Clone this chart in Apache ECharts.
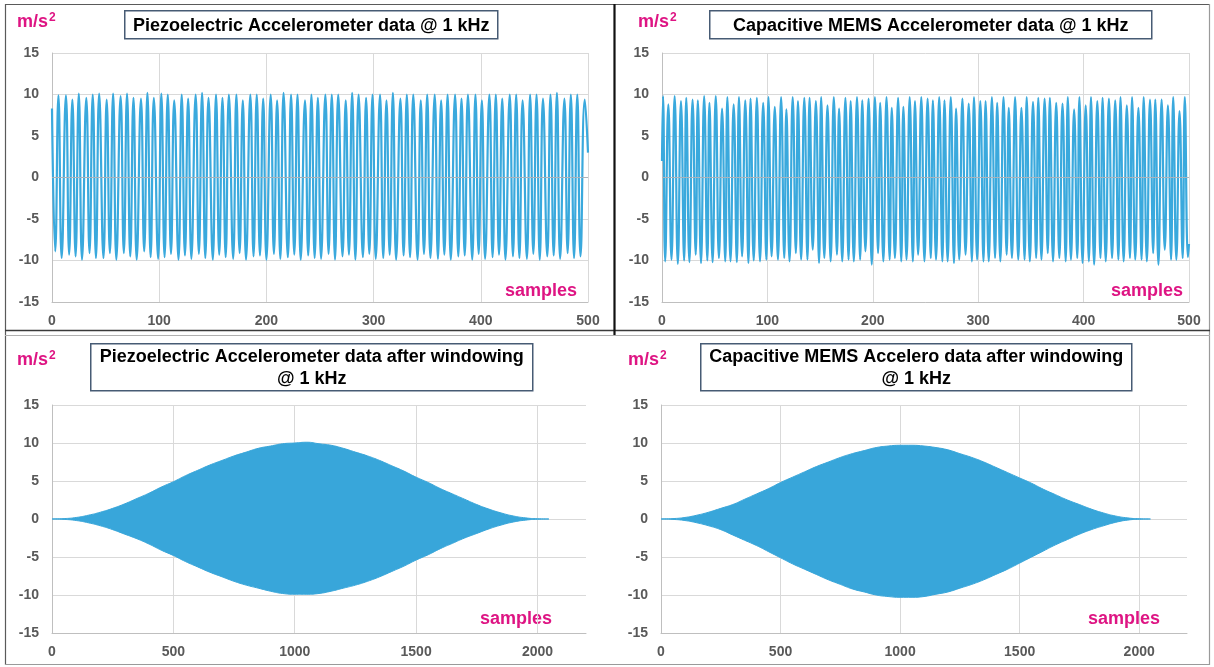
<!DOCTYPE html>
<html>
<head>
<meta charset="utf-8">
<script src="https://cdn.jsdelivr.net/npm/echarts@6/dist/echarts.min.js"></script>
<style>
  html, body { margin: 0; padding: 0; background: #ffffff; }
  #chart { width: 1214px; height: 667px; }
</style>
</head>
<body>
<div id="chart"></div>
<script>
// ---- Piezoelectric accelerometer, raw, turning points of the 500-sample record ----
const piezoStart = [0, 8.3];
const piezoEnd = [500, 3.0];
const piezoPeakX = [6,13,19,25,32,38,44,51,57,64,70,76,83,89,95,102,108,114,121,127,134,140,146,153,159,165,172,178,185,191,197,204,210,216,223,229,236,242,248,255,261,267,274,280,286,293,299,306,312,318,325,331,337,344,350,357,363,369,376,382,388,395,401,408,414,420,427,433,439,446,452,458,465,471,478,484,490,497];
const piezoPeakY = [9.9,9.9,9.4,10.1,9.6,10.0,10.1,9.4,10.1,9.8,10.1,9.6,9.5,10.2,9.6,10.1,
  10.0,9.3,10.0,9.5,10.0,10.2,9.6,10.0,9.6,10.0,10.0,9.3,10.0,10.0,9.5,10.0,9.3,10.2,10.0,10.0,9.3,10.0,9.6,10.0,
  10.0,10.0,9.3,10.2,10.0,9.6,10.0,10.0,9.3,10.2,9.5,10.0,10.0,9.3,10.0,10.0,9.3,10.0,10.0,9.5,10.0,10.0,9.3,10.0,
  10.0,9.5,10.0,10.0,9.3,10.0,10.0,9.5,10.0,10.2,9.5,10.0,10.0,9.4];
const piezoTroughX = [3,9,16,22,28,35,41,48,54,60,67,73,79,86,92,99,105,111,118,124,130,137,143,150,156,162,169,175,181,188,194,200,207,213,220,226,232,239,245,251,258,264,271,277,283,290,296,302,309,315,321,328,334,341,347,353,360,366,372,379,385,392,398,404,411,417,423,430,436,443,449,455,462,468,474,481,487,493];
const piezoTroughY = [-8.9,-9.7,-9.3,-9.5,-9.9,-9.1,-9.7,-9.7,-9.1,-9.9,-9.1,-9.5,-9.9,-8.9,-9.6,-9.8,
  -9.6,-9.2,-9.9,-9.4,-9.8,-9.2,-9.7,-9.9,-9.3,-9.6,-9.8,-9.1,-9.9,-9.5,-9.4,-9.9,-9.2,-9.8,-9.6,-9.3,
  -9.9,-9.4,-9.7,-9.8,-9.2,-9.9,-9.5,-9.3,-9.9,-9.6,-9.2,-9.8,-9.7,-9.3,-9.9,-9.4,-9.6,-9.9,-9.2,-9.7,
  -9.8,-9.3,-9.9,-9.5,-9.4,-9.9,-9.2,-9.8,-9.6,-9.3,-9.9,-9.5,-9.7,-9.8,-9.2,-9.9,-9.5,-9.4,-9.8,-9.1,-9.7,-9.5];

// ---- Capacitive MEMS accelerometer, raw ----
const memsStart = [0, 2.0];
const memsEnd = [500, -8.0];
const memsPeakX = [1,6,12,18,23,29,34,40,45,51,57,62,68,73,79,84,90,96,101,107,113,118,124,129,135,140,146,151,157,163,168,174,179,185,190,196,202,207,213,218,224,229,235,240,246,252,257,263,268,274,279,285,291,296,302,307,313,318,324,329,335,341,346,352,357,363,368,374,380,385,391,396,402,407,413,418,424,430,435,441,446,452,457,463,468,474,480,485,491,496];
const memsPeakY = [9.8,8.8,9.8,9.2,9.6,9.4,9.3,9.8,9.0,9.8,8.3,9.7,8.8,9.7,9.3,9.5,9.6,
  9.0,9.7,8.5,9.7,8.2,9.7,9.2,9.6,9.6,9.2,
  9.7,8.7,9.7,8.3,9.6,9.2,9.7,9.3,9.5,9.7,
  9.0,9.7,8.4,9.6,8.5,9.7,9.2,9.7,9.5,9.3,
  9.7,9.3,9.7,8.3,9.5,8.9,9.7,9.2,9.2,9.7,
  9.0,9.7,8.4,9.7,8.4,9.7,9.1,9.6,9.5,9.6,
  9.0,8.9,9.7,8.2,9.7,8.7,9.7,9.2,9.6,9.5,
  9.3,9.7,8.7,9.7,8.4,9.7,9.4,9.4,9.4,8.7,
  9.7,8.0,9.7];
const memsTroughX = [3,9,15,21,26,32,37,43,48,54,60,65,71,76,82,87,93,99,104,110,116,121,127,132,138,143,149,154,160,166,171,177,182,188,193,199,205,210,216,221,227,232,238,243,249,255,260,266,271,277,282,288,294,299,305,310,316,321,327,332,338,344,349,355,360,366,371,377,383,388,394,399,405,410,416,421,427,433,438,444,449,455,460,466,471,477,483,488,494,499];
const memsTroughY = [-10.1,-9.9,-10.4,-10.0,-10.2,-9.3,-10.3,-10.0,-10.2,-9.7,-10.1,-10.1,-10.2,-9.5,-10.3,-10.0,-10.1,
  -9.9,-9.5,-9.9,-9.7,-10.1,-9.1,-9.9,-9.9,-8.7,-10.3,
  -9.7,-10.1,-9.3,-10.1,-9.9,-10.1,-9.9,-8.9,-10.5,-9.1,
  -10.1,-9.9,-9.7,-10.1,-9.9,-10.1,-9.3,-10.1,-9.7,-9.9,
  -10.1,-10.1,-10.3,-9.9,-9.3,-10.1,-9.9,-10.1,-10.1,-9.7,
  -10.1,-9.3,-9.7,-9.9,-9.9,-10.1,-9.7,-9.9,-9.1,-10.1,
  -9.7,-10.1,-9.9,-9.7,-10.3,-10.1,-10.5,-9.7,-10.1,-9.7,
  -9.9,-10.1,-9.7,-9.9,-9.9,-10.1,-9.1,-10.5,-8.7,-9.9,
  -9.9,-9.7,-9.6];

// ---- Windowed records (2048 samples): upper / lower envelope of the filled trace ----
const winX = [0,50,100,150,200,250,300,350,400,450,500,550,600,650,700,750,800,850,900,950,1000,1050,1100,1150,1200,1250,1300,1350,1400,1450,1500,1550,1600,1650,1700,1750,1800,1850,1900,1950,2000,2047];
const piezoWinUpper = [0,0.05,0.2,0.5,0.9,1.4,2.0,2.7,3.4,4.2,4.9,5.7,6.4,7.1,7.7,8.3,8.8,9.3,9.6,9.9,10.0,10.1,9.9,9.7,9.3,8.8,8.3,7.7,7.0,6.3,5.5,4.8,4.0,3.3,2.6,1.9,1.3,0.8,0.4,0.15,0.03,0];
const piezoWinLower = [0,-0.05,-0.2,-0.5,-0.9,-1.4,-2.0,-2.6,-3.3,-4.1,-4.8,-5.6,-6.3,-7.0,-7.6,-8.2,-8.7,-9.1,-9.5,-9.8,-9.9,-9.9,-9.8,-9.5,-9.1,-8.7,-8.2,-7.6,-6.9,-6.2,-5.4,-4.7,-3.9,-3.2,-2.5,-1.9,-1.3,-0.8,-0.4,-0.15,-0.03,0];
const memsWinUpper = [0,0.05,0.2,0.5,0.9,1.4,1.9,2.6,3.3,4.0,4.8,5.5,6.2,6.9,7.5,8.1,8.6,9.0,9.4,9.6,9.7,9.7,9.6,9.4,9.1,8.6,8.1,7.5,6.8,6.1,5.4,4.7,3.9,3.2,2.5,1.9,1.3,0.8,0.4,0.15,0.03,0];
const memsWinLower = [0,-0.05,-0.2,-0.5,-0.9,-1.4,-2.1,-2.8,-3.5,-4.3,-5.1,-5.9,-6.6,-7.3,-8.0,-8.6,-9.2,-9.6,-10.0,-10.2,-10.3,-10.3,-10.2,-9.9,-9.6,-9.1,-8.6,-8.0,-7.3,-6.6,-5.8,-5.0,-4.2,-3.4,-2.7,-2.0,-1.4,-0.9,-0.45,-0.15,-0.03,0];

// ---- Texts ----
const panelTitles = [
  'Piezoelectric Accelerometer data @ 1 kHz',
  'Capacitive MEMS Accelerometer data @ 1 kHz',
  'Piezoelectric Accelerometer data after windowing\n@ 1 kHz',
  'Capacitive MEMS Accelero data after windowing\n@ 1 kHz'
];
const unitBase = 'm/s';
const unitPower = '2';
const xLabel = 'samples';

const FONT = '"Liberation Sans", Arial, Helvetica, sans-serif';
const LINE = '#3AA9DD';
const FILL = '#38A6DA';
const MAGENTA = '#DE1483';

function mergeTurns(start, px, py, tx, ty, end) {
  const pts = [start];
  px.forEach((x, i) => pts.push([x, py[i]]));
  tx.forEach((x, i) => pts.push([x, ty[i]]));
  pts.push(end);
  return pts.sort((a, b) => a[0] - b[0]);
}
function zip(xs, ys) { return xs.map((x, i) => [x, ys[i]]); }

const grids = [
  { left: 52, top: 53, width: 536, height: 249 },
  { left: 662, top: 53, width: 527, height: 249 },
  { left: 52, top: 405, width: 534, height: 228 },
  { left: 661, top: 405, width: 526, height: 228 }
];

const tickText = { color: '#595959', fontWeight: 'bold', fontSize: 14, fontFamily: FONT };
const gridLine = { show: true, lineStyle: { color: '#D9D9D9', width: 1 } };
const axisEdge = { show: true, onZero: false, lineStyle: { color: '#BFBFBF', width: 1 } };

function xAxisDef(gi, max, interval) {
  return {
    type: 'value', gridIndex: gi, min: 0, max: max, interval: interval,
    axisLine: axisEdge, axisTick: { show: false },
    axisLabel: Object.assign({ margin: 12, showMaxLabel: max % interval === 0,
                               formatter: v => String(v) }, tickText),
    splitLine: Object.assign({ showMaxLine: max % interval === 0 }, gridLine)
  };
}
function yAxisDef(gi) {
  return {
    type: 'value', gridIndex: gi, min: -15, max: 15, interval: 5,
    axisLine: axisEdge, axisTick: { show: false },
    axisLabel: Object.assign({ margin: 13 }, tickText),
    splitLine: gridLine
  };
}

const zeroMark = {
  silent: true, symbol: 'none', label: { show: false },
  lineStyle: { color: '#A9B4BC', width: 1, type: 'solid' },
  data: [{ yAxis: 0 }]
};

function waveSeries(gi, data) {
  return {
    type: 'line', xAxisIndex: gi, yAxisIndex: gi, data: data,
    showSymbol: false, smooth: true, animation: false,
    lineStyle: { color: LINE, width: 2.2 },
    markLine: zeroMark
  };
}
function envelopeSeries(gi, data) {
  return {
    type: 'line', xAxisIndex: gi, yAxisIndex: gi, data: data,
    showSymbol: false, smooth: true, animation: false,
    lineStyle: { color: FILL, width: 1 },
    areaStyle: { color: FILL, opacity: 1, origin: 0 }
  };
}

// Title boxes, unit and axis captions
function titleBox(x, y, w, h, text) {
  return {
    type: 'group', left: x, top: y,
    children: [
      { type: 'rect', shape: { x: 0, y: 0, width: w, height: h },
        style: { fill: '#ffffff', stroke: '#475B74', lineWidth: 1.5 } },
      { type: 'text', x: w / 2, y: h / 2 + 1,
        style: { text: text, fill: '#000000', font: 'bold 18px ' + FONT,
                 align: 'center', verticalAlign: 'middle', lineHeight: 22 } }
    ]
  };
}
function caption(x, y, text) {
  return { type: 'text', x: x, y: y,
    style: { text: text, fill: MAGENTA, font: 'bold 18px ' + FONT,
             align: 'left', verticalAlign: 'middle' } };
}
function unitCaption(x, y) {
  return { type: 'text', x: x, y: y,
    style: {
      text: '{b|' + unitBase + '}{p|' + unitPower + '}',
      align: 'left', verticalAlign: 'middle',
      rich: {
        b: { fill: MAGENTA, font: 'bold 18px ' + FONT, fontFamily: FONT, fontSize: 18, fontWeight: 'bold', color: MAGENTA },
        p: { fill: MAGENTA, color: MAGENTA, fontFamily: FONT, fontSize: 12, fontWeight: 'bold', padding: [0, 0, 9, 1] }
      }
    } };
}
function frameLine(x1, y1, x2, y2, color, width) {
  return { type: 'line', shape: { x1: x1, y1: y1, x2: x2, y2: y2 },
    style: { stroke: color, lineWidth: width }, z: 100 };
}

const option = {
  backgroundColor: '#ffffff',
  animation: false,
  grid: grids,
  xAxis: [xAxisDef(0, 500, 100), xAxisDef(1, 500, 100), xAxisDef(2, 2200, 500), xAxisDef(3, 2200, 500)],
  yAxis: [yAxisDef(0), yAxisDef(1), yAxisDef(2), yAxisDef(3)],
  series: [
    waveSeries(0, mergeTurns(piezoStart, piezoPeakX, piezoPeakY, piezoTroughX, piezoTroughY, piezoEnd)),
    waveSeries(1, mergeTurns(memsStart, memsPeakX, memsPeakY, memsTroughX, memsTroughY, memsEnd)),
    envelopeSeries(2, zip(winX, piezoWinUpper)),
    envelopeSeries(2, zip(winX, piezoWinLower)),
    envelopeSeries(3, zip(winX, memsWinUpper)),
    envelopeSeries(3, zip(winX, memsWinLower))
  ],
  graphic: [
    titleBox(124, 10, 373, 28, panelTitles[0]),
    titleBox(709, 10, 442, 28, panelTitles[1]),
    titleBox(90, 343, 442, 47, panelTitles[2]),
    titleBox(700, 343, 431, 47, panelTitles[3]),
    unitCaption(17, 22),
    unitCaption(638, 22),
    unitCaption(17, 360),
    unitCaption(628, 360),
    caption(505, 291, xLabel),
    caption(1111, 291, xLabel),
    caption(480, 619, xLabel),
    caption(1088, 619, xLabel),
    frameLine(5, 4.5, 1210, 4.5, '#5A5A5A', 1.2),
    frameLine(5.5, 4, 5.5, 665, '#5A5A5A', 1.2),
    frameLine(1209.5, 4, 1209.5, 665, '#9A9A9A', 1.2),
    frameLine(5, 664.5, 1210, 664.5, '#9A9A9A', 1.2),
    frameLine(5, 330.5, 1210, 330.5, '#3A3A3A', 1.5),
    frameLine(5, 335.5, 1210, 335.5, '#B0B0B0', 1.2),
    frameLine(614.5, 4, 614.5, 335, '#111111', 2.2)
  ]
};

const chart = echarts.init(document.getElementById('chart'), null, { renderer: 'canvas' });
chart.setOption(option);
</script>
</body>
</html>
